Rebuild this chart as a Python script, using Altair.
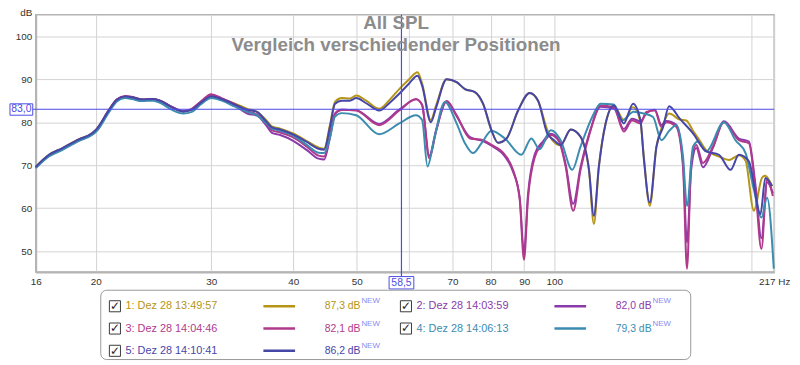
import altair as alt
import pandas as pd

W, H = 746, 260

SERIES = ["1: Dez 28 13:49:57", "2: Dez 28 14:03:59", "3: Dez 28 14:04:46",
          "4: Dez 28 14:06:13", "5: Dez 28 14:10:41"]
LEVELS = ["87,3 dB", "82,0 dB", "82,1 dB", "79,3 dB", "86,2 dB"]
COLORS = ["#b49516", "#8b3ba9", "#b0398c", "#3c8cb0", "#4646a8"]
LEG_COL = [0, 1, 0, 1, 0]
LEG_ROW = [0, 0, 1, 1, 2]

X_TICKS = [16.2, 20, 30, 40, 50, 60, 70, 80, 90, 100, 200, 216.5]
Y_TICKS = [50, 60, 70, 80, 90, 100]
CURSOR_F, CURSOR_F_TXT = 58.5, "58,5"
CURSOR_DB, CURSOR_DB_TXT = 83.0, "83,0"
TITLE1 = "All SPL"
TITLE2 = "Vergleich verschiedender Positionen"

LOW_F = [16.2, 16.97, 17.77, 18.84, 19.74, 20.09, 20.93, 21.54, 22.18, 22.70, 23.51,
         24.49, 25.07, 26.11, 27.20, 28.01, 29.01, 29.99, 31.11, 32.61, 34.05]

# series 1 (gold)
F1 = LOW_F + [35.23, 36.48, 37.12, 38.22, 40.06, 41.97, 43.72, 44.59, 45.53, 46.33, 47.44,
              48.8, 49.9, 51.7, 54.1, 56.2, 58.05, 60.1, 61.9, 62.9, 64.85, 66.1, 68.55, 71.0,
              73.1, 75.7, 77.9, 80.25, 82.1, 84.6, 88.1, 91.75, 94.5, 97.6, 99.35, 102.3,
              106.0, 109.7, 113.0, 114.95, 117.0, 119.8, 123.3, 127.7, 131.9, 135.4, 136.9,
              139.9, 143.2, 146.6, 149.7, 155.4, 159.0, 162.8, 166.6, 170.5, 178.4, 184.7,
              191.3, 195.8, 201.6, 207.5, 209.9, 214.9]
D1 = [69.6, 72.4, 73.9, 76.0, 77.4, 78.5, 82.7, 85.2, 86.0, 85.8, 85.3, 85.4, 85.0, 83.5,
      82.5, 82.9, 84.7, 86.0, 85.4, 84.3, 83.1,
      82.4, 80.3, 79.0, 78.5, 77.3, 75.6, 74.1, 73.8, 79.5, 84.7, 85.6, 85.5, 86.2, 85.0,
      83.1, 85.3, 87.7, 90.0, 91.6, 89.0, 80.5, 84.0, 90.0, 89.3, 87.7, 87.0, 84.3, 78.1,
      75.2, 76.2, 82.7, 86.8, 85.0, 78.2, 75.8, 74.6, 78.3, 76.6, 68.9, 56.3, 69.7, 79.7,
      83.9, 80.5, 83.5, 80.0, 72.5, 60.5, 74.3, 79.5, 82.0, 80.6, 80.4, 78.0, 75.8, 73.5,
      72.0, 71.2, 72.3, 71.0, 59.4, 67.1, 67.5, 65.1]

# series 3 (magenta) and 2 (purple) share frequencies
F3 = LOW_F + [35.23, 36.48, 37.12, 38.22, 40.06, 41.97, 43.72, 44.59, 45.53, 46.33, 47.44,
              49.9, 54.1, 58.05, 61.56, 62.9, 64.5, 66.1, 68.55, 71.0, 74.4, 77.9, 80.25,
              84.1, 86.55, 88.6, 89.95, 91.2, 93.4, 96.1, 98.8, 101.7, 104.1, 106.9, 109.7,
              113.65, 117.7, 123.3, 127.7, 131.45, 135.4, 138.25, 142.4, 145.7, 148.3, 153.5,
              157.2, 159.4, 161.8, 164.7, 168.6, 174.6, 181.5, 191.3, 198.1, 202.7, 207.0,
              211.2, 215.5]
D3 = [69.5, 72.3, 73.8, 75.9, 77.3, 78.4, 82.8, 85.3, 86.1, 85.9, 85.3, 85.4, 85.0, 83.6,
      82.6, 83.1, 85.0, 86.5, 85.6, 84.2, 82.5,
      81.8, 79.5, 78.1, 77.6, 76.4, 74.3, 72.2, 72.0, 77.0, 82.0, 82.9, 82.7, 79.3, 82.7,
      85.4, 84.0, 71.6, 78.0, 84.9, 81.6, 76.2, 75.8, 74.7, 72.4, 68.9, 62.0, 48.0, 62.0,
      71.8, 75.0, 77.0, 75.5, 69.7, 59.4, 68.9, 78.1, 83.9, 83.5, 77.8, 80.4, 79.7, 82.4,
      82.7, 78.9, 80.0, 78.9, 69.7, 45.9, 70.5, 74.7, 70.5, 74.3, 80.0, 75.8, 75.1, 64.3,
      50.5, 66.6, 62.8]
F2 = F3
D2 = [69.4, 72.2, 73.7, 75.8, 77.2, 78.3, 82.6, 85.2, 86.0, 85.8, 85.2, 85.3, 84.9, 83.5,
      82.5, 83.0, 84.9, 86.4, 85.4, 83.9, 82.0,
      81.5, 79.0, 77.5, 77.0, 75.6, 73.5, 71.5, 71.3, 76.5, 82.0, 82.9, 82.8, 79.6, 82.9,
      85.3, 84.0, 72.2, 78.3, 84.8, 81.4, 76.5, 75.6, 74.5, 72.0, 68.5, 62.5, 49.5, 63.0,
      72.5, 75.5, 77.3, 75.8, 70.2, 61.0, 69.5, 78.4, 83.6, 83.2, 78.4, 80.8, 80.2, 82.1,
      82.9, 79.4, 80.3, 79.4, 70.5, 52.0, 69.0, 74.0, 69.5, 74.0, 80.2, 76.2, 75.5, 65.5,
      53.0, 66.0, 63.5]

# series 4 (teal)
F4 = LOW_F + [35.23, 36.48, 37.12, 38.22, 40.06, 41.97, 43.72, 44.59, 45.53, 46.33, 47.44,
              49.9, 54.1, 58.05, 61.56, 62.9, 64.1, 65.6, 68.15, 71.0, 73.1, 75.2, 77.5,
              80.25, 84.1, 89.1, 92.3, 95.0, 98.8, 101.1, 102.3, 106.55, 109.7, 114.3, 117.7,
              123.3, 126.9, 132.2, 136.9, 141.5, 145.7, 150.0, 153.5, 157.2, 159.4, 162.8,
              165.7, 170.5, 181.5, 189.0, 195.8, 201.6, 207.0, 211.2, 216.2]
D4 = [69.3, 72.0, 73.5, 75.6, 77.0, 78.0, 82.2, 84.8, 85.6, 85.4, 84.9, 85.0, 84.5, 82.9,
      82.0, 82.4, 84.3, 85.6, 85.0, 83.6, 82.4,
      81.6, 79.6, 78.5, 78.0, 76.8, 74.7, 72.9, 72.8, 76.5, 81.3, 82.1, 81.6, 77.2, 79.7,
      81.6, 80.5, 69.7, 76.0, 84.7, 79.7, 75.1, 72.8, 75.1, 78.0, 76.2, 72.4, 76.2, 73.7,
      78.1, 77.0, 75.8, 68.9, 74.3, 81.2, 84.3, 84.1, 80.4, 82.4, 82.0, 81.2, 75.8, 78.1,
      79.3, 72.0, 60.5, 74.3, 75.5, 73.2, 80.0, 75.8, 72.8, 64.3, 57.8, 62.4, 45.9]

# series 5 (blue)
F5 = LOW_F + [35.23, 36.48, 37.12, 38.22, 40.06, 41.97, 43.72, 44.59, 45.53, 46.33, 47.44,
              48.8, 49.9, 51.7, 54.1, 56.2, 58.05, 60.1, 61.9, 62.9, 64.85, 66.1, 68.55, 71.0,
              73.1, 75.7, 77.9, 80.25, 82.1, 84.6, 88.1, 91.75, 94.5, 97.6, 99.95, 102.3,
              106.0, 109.7, 113.0, 114.95, 117.0, 119.8, 123.3, 127.7, 131.9, 135.4, 136.9,
              139.9, 143.2, 146.6, 149.7, 155.4, 162.8, 170.5, 178.4, 185.75, 191.3, 198.1,
              206.3, 209.9, 214.9]
D5 = [69.6, 72.4, 73.9, 76.0, 77.4, 78.5, 82.7, 85.2, 86.0, 85.8, 85.3, 85.4, 85.0, 83.5,
      82.5, 82.9, 84.7, 86.0, 85.4, 84.1, 82.9,
      82.4, 80.0, 78.8, 78.3, 77.1, 75.4, 73.8, 73.6, 79.0, 84.3, 85.0, 85.0, 85.6, 84.4,
      82.7, 84.6, 86.6, 89.0, 90.8, 88.5, 80.0, 83.5, 90.0, 89.3, 87.7, 87.0, 84.3, 78.1,
      75.2, 76.2, 82.7, 86.8, 85.0, 77.4, 75.8, 74.7, 78.3, 76.6, 68.9, 58.2, 69.7, 79.7,
      83.9, 79.7, 84.3, 80.4, 72.0, 61.3, 74.3, 78.9, 83.7, 80.8, 77.4, 73.2, 72.4, 68.9,
      72.4, 70.9, 58.6, 67.0, 65.1]

FREQS = [F1, F2, F3, F4, F5]
DBS = [D1, D2, D3, D4, D5]

rows = []
for name, fs, ds in zip(SERIES, FREQS, DBS):
    if len(fs) != len(ds):
        raise ValueError(f"{name}: {len(fs)} freqs vs {len(ds)} values")
    for f, d in zip(fs, ds):
        rows.append({"series": name, "f": f, "db": d})
df = pd.DataFrame(rows)

one = pd.DataFrame({"k": [0]})
leg = pd.DataFrame({"series": SERIES, "level": LEVELS, "col": LEG_COL, "row": LEG_ROW})

xscale = alt.Scale(type="log", domain=[16.2, 216.5], nice=False)
yscale = alt.Scale(domain=[45.1, 105], nice=False, zero=False)
cscale = alt.Scale(domain=SERIES, range=COLORS)
CUR = "#4b4be6"

label_expr = ("datum.value < 17 ? '16' : datum.value > 210 ? '217 Hz' : "
              "(datum.value == 60 || datum.value == 200) ? '' : datum.label")

lines = alt.Chart(df).mark_line(interpolate="monotone", strokeWidth=2).encode(
    x=alt.X("f:Q", scale=xscale,
            axis=alt.Axis(values=X_TICKS, labelExpr=label_expr, title=None, ticks=False,
                          domain=True, domainColor="#b4b4b4", domainWidth=2,
                          gridColor="#d2d2d2", labelFontSize=10, labelColor="#333333",
                          labelPadding=5, labelFlush=False, labelOverlap=False)),
    y=alt.Y("db:Q", scale=yscale,
            axis=alt.Axis(values=Y_TICKS, title="dB", titleAngle=0, titleAlign="right",
                          titleBaseline="bottom", titleX=-4, titleY=3, titleFontSize=10,
                          titleFontWeight="normal", titleColor="#333333", ticks=False,
                          domain=True, domainColor="#b4b4b4", domainWidth=2,
                          gridColor="#d2d2d2", labelFontSize=10, labelColor="#333333",
                          labelPadding=4)),
    color=alt.Color("series:N", scale=cscale, legend=None),
    order=alt.Order("f:Q"),
)

hrule = alt.Chart(one).mark_rule(color=CUR, strokeWidth=1.2).encode(
    y=alt.datum(CURSOR_DB), x=alt.value(-3), x2=alt.value(W))
vrule = alt.Chart(one).mark_rule(color=CUR, strokeWidth=1.2).encode(
    x=alt.datum(CURSOR_F), y=alt.value(0), y2=alt.value(H + 5))

ybox = alt.Chart(one).mark_rect(fill="white", stroke=CUR, strokeWidth=1,
                                yOffset=-5.5, y2Offset=6).encode(
    y=alt.datum(CURSOR_DB), y2=alt.datum(CURSOR_DB), x=alt.value(-26), x2=alt.value(-3))
ytxt = alt.Chart(one).mark_text(text=CURSOR_DB_TXT, color=CUR, fontSize=10.5,
                                align="center", baseline="middle").encode(
    y=alt.datum(CURSOR_DB), x=alt.value(-14.5))
xbox = alt.Chart(one).mark_rect(fill="white", stroke=CUR, strokeWidth=1,
                                xOffset=-12.5, x2Offset=12.5).encode(
    x=alt.datum(CURSOR_F), x2=alt.datum(CURSOR_F), y=alt.value(H + 4.5), y2=alt.value(H + 17))
xtxt = alt.Chart(one).mark_text(text=CURSOR_F_TXT, color=CUR, fontSize=10.5,
                                align="center", baseline="middle").encode(
    x=alt.datum(CURSOR_F), y=alt.value(H + 11))

t1 = alt.Chart(one).mark_text(text=TITLE1, fontSize=19, fontWeight="bold", color="#8c8c8c",
                              align="center", baseline="middle").encode(
    x=alt.value(364), y=alt.value(8))
t2 = alt.Chart(one).mark_text(text=TITLE2, fontSize=19, fontWeight="bold", color="#8c8c8c",
                              align="center", baseline="middle").encode(
    x=alt.value(364), y=alt.value(31))

main = alt.layer(lines, hrule, vrule, ybox, ytxt, xbox, xtxt, t1, t2)

lx = alt.Scale(domain=[0, 1], range=[74, 368], nice=False, zero=False)
ly = alt.Scale(domain=[0, 2], range=[294.5, 339.5], nice=False, zero=False)
LX = alt.X("col:Q", scale=lx, axis=None)
LY = alt.Y("row:Q", scale=ly, axis=None)

lbox = alt.Chart(one).mark_rect(fill="white", stroke="#9a9a9a", strokeWidth=1,
                                cornerRadius=6).encode(
    x=alt.value(65.7), x2=alt.value(661.7), y=alt.value(278.3), y2=alt.value(348.3))
lsq = alt.Chart(leg).mark_square(size=125, filled=False, color="#3a3a3a", strokeWidth=1,
                                 xOffset=6, opacity=1).encode(x=LX, y=LY)
lchk = alt.Chart(leg).mark_text(text="✓", font="DejaVu Sans", fontSize=12, color="#222222",
                                dx=6, dy=0, align="center", baseline="middle").encode(x=LX, y=LY)
llab = alt.Chart(leg).mark_text(align="left", baseline="middle", dx=16.7, fontSize=11).encode(
    x=LX, y=LY, text="series:N", color=alt.Color("series:N", scale=cscale, legend=None))
lline = alt.Chart(leg).mark_rule(strokeWidth=2.5, xOffset=156, x2Offset=188).encode(
    x=LX, x2="col:Q", y=LY, color=alt.Color("series:N", scale=cscale, legend=None))
lval = alt.Chart(leg).mark_text(align="left", baseline="middle", dx=218, fontSize=10.5).encode(
    x=LX, y=LY, text="level:N", color=alt.Color("series:N", scale=cscale, legend=None))
lnew = alt.Chart(leg).mark_text(text="NEW", align="left", baseline="middle", dx=255, dy=-5,
                                fontSize=8, color="#8a8af0").encode(x=LX, y=LY)

legend = alt.layer(lbox, lsq, lchk, llab, lline, lval, lnew)

chart = alt.layer(main, legend).resolve_scale(x="independent", y="independent").properties(
    width=W, height=H,
    autosize=alt.AutoSizeParams(type="none"),
    padding={"left": 28, "top": 5, "right": 18, "bottom": 89},
).configure(font="Liberation Sans").configure_view(stroke="#b4b4b4", strokeWidth=1.5)

chart.save("out.html", embed_options={"renderer": "svg", "actions": False})
